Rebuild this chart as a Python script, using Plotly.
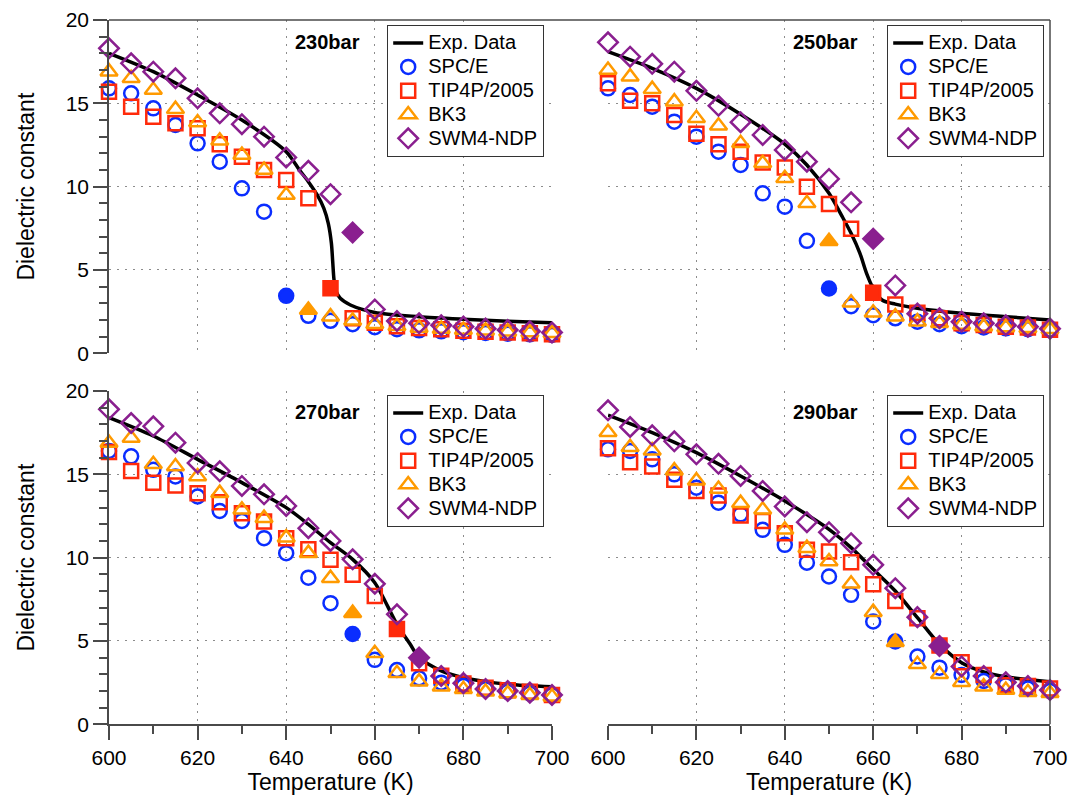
import plotly.graph_objects as go

# ---------------- data ----------------
T = [600, 605, 610, 615, 620, 625, 630, 635, 640, 645, 650,
     655, 660, 665, 670, 675, 680, 685, 690, 695, 700]

pressures = ["230bar", "250bar", "270bar", "290bar"]
models = ["SPC/E", "TIP4P/2005", "BK3", "SWM4-NDP"]

# 230 bar
spce_230 = [15.9, 15.6, 14.7, 13.7, 12.6, 11.5, 9.9, 8.5, 3.45, 2.25, 1.95, 1.75, 1.57, 1.45, 1.38, 1.32, 1.27, 1.22, 1.18, 1.14, 1.1]
tip4p_230 = [15.7, 14.8, 14.2, 13.8, 13.5, 12.55, 11.8, 11.0, 10.4, 9.3, 3.9, 2.1, 1.84, 1.62, 1.52, 1.45, 1.36, 1.3, 1.25, 1.2, 1.15]
bk3_230 = [16.9, 16.5, 15.8, 14.65, 13.85, 12.75, 11.9, 11.0, 9.5, 2.6, 2.2, 1.95, 1.75, 1.62, 1.52, 1.46, 1.4, 1.35, 1.3, 1.25, 1.2]
swm4_230 = [18.3, 17.4, 16.9, 16.5, 15.3, 14.4, 13.75, 13.0, 11.75, 10.95, 9.55, 7.25, 2.63, 1.94, 1.8, 1.68, 1.6, 1.48, 1.4, 1.32, 1.25]
exp_T_230 = [600, 610, 620, 630, 640, 643, 645, 647, 648.5, 649.5, 650.2, 650.5, 650.8, 651.3, 652.2, 654.5, 660, 670, 680, 690, 700]
exp_230 = [18.0, 16.9, 15.5, 14.0, 12.1, 11.0, 10.3, 9.5, 8.7, 7.8, 6.6, 5.5, 4.4, 3.7, 3.3, 2.9, 2.45, 2.2, 2.05, 1.93, 1.84]

# 250 bar
spce_250 = [15.9, 15.5, 14.8, 13.9, 13.0, 12.1, 11.3, 9.6, 8.8, 6.75, 3.89, 2.83, 2.29, 2.1, 1.9, 1.75, 1.63, 1.55, 1.5, 1.45, 1.4]
tip4p_250 = [16.2, 15.15, 15.0, 14.3, 13.17, 12.55, 12.1, 11.45, 11.15, 10.0, 8.96, 7.47, 3.63, 2.93, 2.43, 2.1, 1.8, 1.7, 1.6, 1.55, 1.42]
bk3_250 = [17.0, 16.6, 15.85, 15.1, 14.1, 13.65, 12.6, 11.4, 10.5, 9.0, 6.72, 3.03, 2.43, 2.2, 1.9, 1.8, 1.7, 1.6, 1.55, 1.5, 1.45]
swm4_250 = [18.66, 17.8, 17.37, 16.9, 15.75, 14.85, 13.87, 13.1, 12.2, 11.5, 10.46, 9.06, 6.87, 4.07, 2.38, 2.1, 1.9, 1.8, 1.68, 1.6, 1.48]
exp_T_250 = [600, 610, 620, 630, 640, 645, 650, 653, 655, 657, 658.5, 660, 662, 665, 670, 680, 690, 700]
exp_250 = [18.1, 17.1, 15.9, 14.35, 12.55, 11.3, 9.6, 8.2, 7.2, 6.0, 4.8, 3.9, 3.2, 2.95, 2.7, 2.4, 2.2, 2.0]

# 270 bar
spce_270 = [16.4, 16.08, 15.27, 14.87, 13.67, 12.8, 12.2, 11.17, 10.27, 8.8, 7.27, 5.42, 3.87, 3.26, 2.76, 2.5, 2.3, 2.1, 1.95, 1.85, 1.75]
tip4p_270 = [16.34, 15.2, 14.5, 14.33, 13.87, 13.33, 12.67, 12.17, 11.17, 10.5, 9.87, 8.97, 7.7, 5.72, 3.66, 2.92, 2.45, 2.2, 2.05, 1.95, 1.76]
bk3_270 = [16.88, 17.18, 15.6, 15.47, 14.87, 13.87, 12.87, 12.37, 11.2, 10.27, 8.77, 6.67, 4.26, 3.06, 2.56, 2.26, 2.1, 1.95, 1.85, 1.75, 1.65]
swm4_270 = [18.9, 18.08, 17.88, 16.9, 15.68, 15.18, 14.3, 13.8, 13.1, 11.77, 11.0, 9.9, 8.43, 6.6, 4.0, 2.9, 2.47, 2.12, 2.0, 1.9, 1.76]
exp_T_270 = [600, 610, 620, 630, 640, 645, 650, 655, 660, 665, 668, 670, 675, 680, 690, 700]
exp_270 = [18.4, 17.3, 15.9, 14.5, 13.0, 12.0, 10.9, 9.9, 8.5, 6.0, 4.8, 4.0, 3.2, 2.8, 2.4, 2.25]

# 290 bar
spce_290 = [16.5, 16.4, 15.9, 15.0, 14.2, 13.3, 12.6, 11.67, 10.77, 9.7, 8.87, 7.77, 6.17, 4.97, 4.07, 3.4, 2.96, 2.6, 2.35, 2.15, 2.0]
tip4p_290 = [16.57, 15.73, 15.47, 14.67, 14.0, 13.73, 12.53, 12.2, 11.47, 10.47, 10.37, 9.73, 8.41, 7.4, 6.37, 4.73, 3.72, 2.96, 2.35, 2.3, 2.15]
bk3_290 = [17.52, 16.62, 16.42, 15.22, 14.62, 14.12, 13.27, 12.87, 11.67, 10.57, 9.77, 8.43, 6.73, 4.93, 3.6, 3.0, 2.52, 2.26, 2.06, 1.92, 1.86]
swm4_290 = [18.84, 17.84, 17.34, 16.98, 16.2, 15.63, 14.9, 14.0, 13.07, 12.13, 11.53, 10.87, 9.57, 8.17, 6.43, 4.7, 3.47, 2.9, 2.52, 2.3, 2.06]
exp_T_290 = [600, 610, 620, 630, 640, 650, 655, 660, 665, 670, 675, 680, 685, 690, 700]
exp_290 = [18.55, 17.5, 16.3, 14.9, 13.4, 11.7, 10.6, 9.3, 8.0, 6.4, 4.8, 3.7, 3.15, 2.85, 2.55]

# temperature of the filled (critical) marker per model: SPC/E, TIP4P/2005, BK3, SWM4-NDP
filled_230 = [640, 650, 645, 655]
filled_250 = [650, 660, 650, 660]
filled_270 = [655, 665, 655, 670]
filled_290 = [665, 675, 665, 675]

panels = [
    (exp_T_230, exp_230, [spce_230, tip4p_230, bk3_230, swm4_230], filled_230),
    (exp_T_250, exp_250, [spce_250, tip4p_250, bk3_250, swm4_250], filled_250),
    (exp_T_270, exp_270, [spce_270, tip4p_270, bk3_270, swm4_270], filled_270),
    (exp_T_290, exp_290, [spce_290, tip4p_290, bk3_290, swm4_290], filled_290),
]

# ---------------- style ----------------
FONT = "Liberation Sans, Arial, Helvetica, sans-serif"
colors = ["#0a2dff", "#ff2a0a", "#ff9a00", "#8a1f8f"]
symbols = ["circle", "square", "triangle-up", "diamond"]
sizes = [14, 14, 15, 15]
AXC = "#4a4a4a"


def legname(s):
    return '<span style="font-size:20px">' + s + '</span>'


W, H = 1069, 798
xdom = [[109 / W, 552 / W], [608 / W, 1050 / W]]
ydom = [[1 - 353.3 / H, 1 - 20 / H], [1 - 724.3 / H, 1 - 391 / H]]

fig = go.Figure()

for p, (eT, eV, series, filled) in enumerate(panels):
    ax = "" if p == 0 else str(p + 1)
    leg = "legend" if p == 0 else "legend" + str(p + 1)
    fig.add_trace(go.Scatter(
        x=eT, y=eV, mode="lines", name=legname("Exp. Data"),
        line=dict(color="black", width=3.5, shape="spline", smoothing=0.8),
        xaxis="x" + ax, yaxis="y" + ax, legend=leg, cliponaxis=False))
    for m in range(4):
        syms = [symbols[m] if t == filled[m] else symbols[m] + "-open" for t in T]
        fig.add_trace(go.Scatter(
            x=T, y=series[m], mode="markers", name=legname(models[m]),
            marker=dict(symbol=syms, size=sizes[m], color=colors[m],
                        line=dict(color=colors[m], width=2.5)),
            xaxis="x" + ax, yaxis="y" + ax, legend=leg, cliponaxis=False))

layout = dict(
    width=W, height=H, margin=dict(l=0, r=0, t=0, b=0, autoexpand=False),
    paper_bgcolor="white", plot_bgcolor="white",
    font=dict(family=FONT, size=20, color="black"),
    showlegend=True,
)

grid = dict(showgrid=True, gridcolor="#8c8c8c", gridwidth=1, griddash="2px,6px", zeroline=False)

for p in range(4):
    ax = "" if p == 0 else str(p + 1)
    col = p % 2
    row = p // 2
    bottom = row == 1
    left = col == 0
    xa = dict(domain=xdom[col], range=[600, 700], anchor="y" + ax, dtick=20, tick0=600,
              automargin=False, **grid)
    ya = dict(domain=ydom[row], range=[0, 20], anchor="x" + ax, dtick=5, tick0=0,
              automargin=False, **grid)
    if bottom:
        xa.update(showline=True, linecolor=AXC, linewidth=1.5, ticks="outside", ticklen=14,
                  tickwidth=1.5, tickcolor=AXC, showticklabels=True,
                  tickfont=dict(size=21, family=FONT),
                  minor=dict(dtick=10, tick0=600, ticks="outside", ticklen=8, tickwidth=1.5,
                             tickcolor=AXC, showgrid=False),
                  title=dict(text="Temperature (K)", font=dict(size=23, family=FONT), standoff=2))
    else:
        xa.update(showline=False, ticks="", showticklabels=False)
    if left:
        ya.update(showline=True, linecolor=AXC, linewidth=1.5, ticks="outside", ticklen=14,
                  tickwidth=1.5, tickcolor=AXC, showticklabels=True,
                  tickfont=dict(size=21, family=FONT),
                  minor=dict(dtick=1, tick0=0, ticks="outside", ticklen=8, tickwidth=1.5,
                             tickcolor=AXC, showgrid=False),
                  title=dict(text="Dielectric constant", font=dict(size=23, family=FONT), standoff=25))
    else:
        ya.update(showline=False, ticks="", showticklabels=False)
    layout["xaxis" + ax] = xa
    layout["yaxis" + ax] = ya

    legkey = "legend" if p == 0 else "legend" + str(p + 1)
    lx = [387 / W, 887 / W][col]
    ly = [1 - 25 / H, 1 - 395 / H][row]
    layout[legkey] = dict(x=lx, y=ly, xanchor="left", yanchor="top",
                          bgcolor="white", bordercolor="#333333", borderwidth=1.2,
                          font=dict(size=16, family=FONT), tracegroupgap=0,
                          itemwidth=30)

annotations = []
for p in range(4):
    col = p % 2
    row = p // 2
    annotations.append(dict(
        text="<b>" + pressures[p] + "</b>", xref="paper", yref="paper",
        x=[362 / W, 860 / W][col], y=[1 - 42 / H, 1 - 412 / H][row],
        xanchor="right", yanchor="middle", showarrow=False,
        font=dict(size=20, family=FONT, color="black")))
layout["annotations"] = annotations

layout["shapes"] = [
    dict(type="line", xref="paper", yref="paper", x0=109 / W, x1=1050 / W,
         y0=1 - 20 / H, y1=1 - 20 / H, line=dict(color=AXC, width=1.5)),
    dict(type="line", xref="paper", yref="paper", x0=1050 / W, x1=1050 / W,
         y0=1 - 724.3 / H, y1=1 - 20 / H, line=dict(color=AXC, width=1.5)),
]

fig.update_layout(**layout)
fig.write_html("out.html", config={"displayModeBar": False},
               post_script="document.body.style.margin='0px';document.body.style.overflow='hidden';")
